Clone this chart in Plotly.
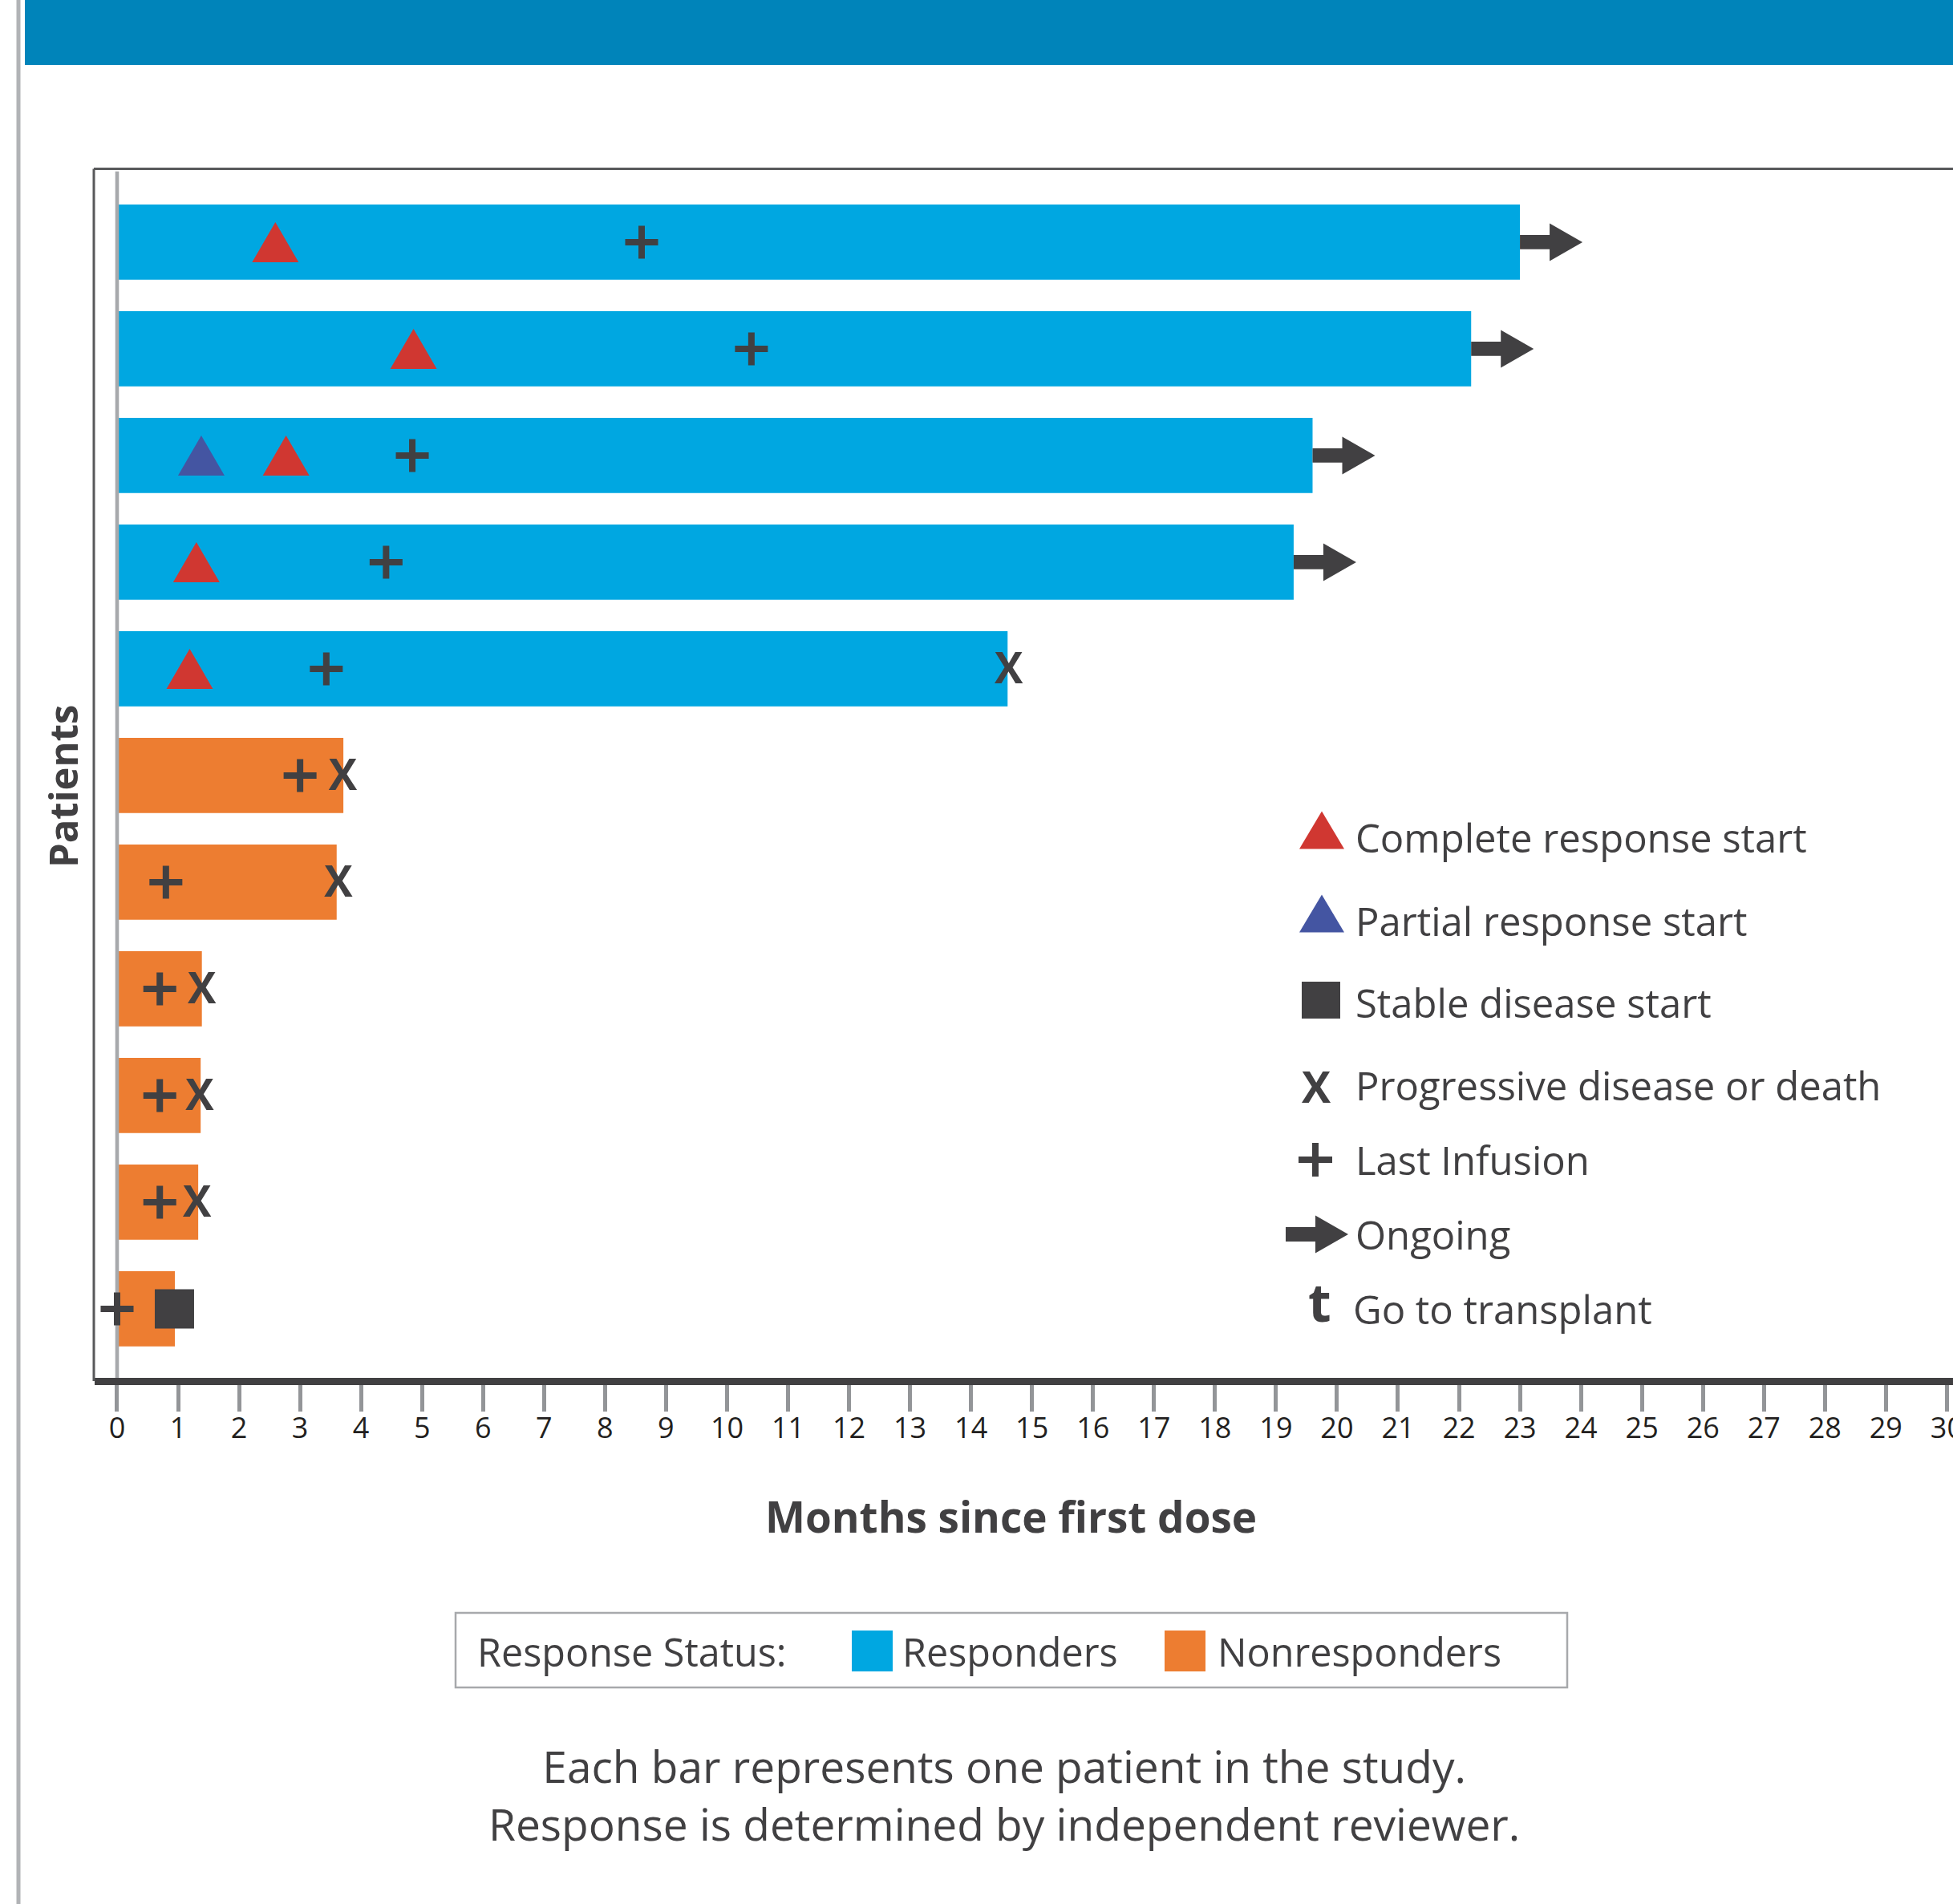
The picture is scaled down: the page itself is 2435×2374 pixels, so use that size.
import plotly.graph_objects as go

# ---------------- data ----------------
patients = list(range(1, 12))
status = ["Responders"] * 5 + ["Nonresponders"] * 6
duration = [23.0, 22.2, 19.6, 19.29, 14.60, 3.71, 3.60, 1.39, 1.37, 1.33, 0.947]

cr_patient = [1, 2, 3, 4, 5]
cr_month = [2.595, 4.86, 2.77, 1.30, 1.19]
pr_patient = [3]
pr_month = [1.38]
sd_patient = [11]
sd_month = [0.94]
pd_patient = [5, 6, 7, 8, 9, 10]
pd_month = [14.62, 3.70, 3.63, 1.39, 1.355, 1.31]
li_patient = list(range(1, 12))
li_month = [8.60, 10.40, 4.84, 4.41, 3.43, 3.00, 0.80, 0.70, 0.70, 0.70, 0.0]
ongoing_patient = [1, 2, 3, 4]

x_ticks = list(range(0, 31))
x_ticklabels = [str(v) for v in x_ticks]

legend_labels = ["Complete response start", "Partial response start", "Stable disease start",
                 "Progressive disease or death", "Last Infusion", "Ongoing", "Go to transplant"]
status_labels = ["Responders", "Nonresponders"]
caption_lines = ["Each bar represents one patient in the study.",
                 "Response is determined by independent reviewer."]

# ---------------- style ----------------
W, H = 2435, 2374
FONT = "Open Sans"
DARK = "#414042"
C_RESP = "#00A7E1"
C_NONRESP = "#ED7D31"
C_CR = "#D03731"
C_PR = "#4455A2"
HEADER = "#0084BA"
TXT_W = 500

PLOT_L, PLOT_T, PLOT_B = 118, 211, 1718
X_RANGE = [-0.368, 30.1]
Y_RANGE = [11.647, 0.316]
PX_PER_MONTH = (W - PLOT_L) / (X_RANGE[1] - X_RANGE[0])
PX_PER_ROW = (PLOT_B - PLOT_T) / (Y_RANGE[0] - Y_RANGE[1])
X_GLYPH_DY = 5 / PX_PER_ROW  # optical centring of the "X" glyph


def px(x):
    return x / W


def py(y):
    return 1 - y / H


fig = go.Figure()

# bars
for lab, col in zip(status_labels, [C_RESP, C_NONRESP]):
    xs = [d for d, s in zip(duration, status) if s == lab]
    ys = [p for p, s in zip(patients, status) if s == lab]
    fig.add_trace(go.Bar(x=xs, y=ys, orientation="h", width=0.705, name=lab,
                         marker=dict(color=col, line=dict(width=0)), showlegend=False))

# zero reference line (drawn above bars, below markers)
fig.add_trace(go.Scatter(x=[0, 0], y=[Y_RANGE[1] + 0.02, Y_RANGE[0]], mode="lines",
                         line=dict(color="#A7A9AC", width=4.6), showlegend=False, hoverinfo="skip"))


# triangles as polygons (58 x 50 px)
def tri_path(months, rows):
    hw = 29 / PX_PER_MONTH
    hh = 25 / PX_PER_ROW
    xs, ys = [], []
    for m, r in zip(months, rows):
        xs += [m - hw, m + hw, m, m - hw, None]
        ys += [r + hh, r + hh, r - hh, r + hh, None]
    return xs, ys


for months, rows, col in [(cr_month, cr_patient, C_CR), (pr_month, pr_patient, C_PR)]:
    tx, ty = tri_path(months, rows)
    fig.add_trace(go.Scatter(x=tx, y=ty, mode="lines", fill="toself", fillcolor=col,
                             line=dict(width=0, color=col), showlegend=False, hoverinfo="skip"))

# ongoing arrows
sl, sh = 37 / PX_PER_MONTH, 8.85 / PX_PER_ROW
hl, hh = 41 / PX_PER_MONTH, 23.5 / PX_PER_ROW
ax_, ay_ = [], []
for p in ongoing_patient:
    xe = duration[patients.index(p)]
    ax_ += [xe, xe + sl, xe + sl, xe + sl + hl, xe + sl, xe + sl, xe, xe, None]
    ay_ += [p - sh, p - sh, p - hh, p, p + hh, p + sh, p + sh, p - sh, None]
fig.add_trace(go.Scatter(x=ax_, y=ay_, mode="lines", fill="toself", fillcolor=DARK,
                         line=dict(width=0, color=DARK), showlegend=False, hoverinfo="skip"))

# last infusion
fig.add_trace(go.Scatter(x=li_month, y=li_patient, mode="markers", showlegend=False,
                         marker=dict(symbol="cross-thin", size=29.3, color=DARK,
                                     line=dict(width=8, color=DARK))))
# stable disease
fig.add_trace(go.Scatter(x=sd_month, y=sd_patient, mode="markers", showlegend=False,
                         marker=dict(symbol="square", size=49, color=DARK, line=dict(width=0))))
# progression / death
fig.add_trace(go.Scatter(x=pd_month, y=[p + X_GLYPH_DY for p in pd_patient], mode="text",
                         text=["X"] * len(pd_month),
                         textposition="middle center", showlegend=False,
                         textfont=dict(family=FONT, size=53, color=DARK, weight="bold")))

shapes = []
annotations = []

# header band and left page rule
shapes.append(dict(type="rect", xref="paper", yref="paper", x0=px(31), x1=1.01, y0=py(81), y1=1.01,
                   fillcolor=HEADER, line=dict(width=0), layer="below"))
shapes.append(dict(type="line", xref="paper", yref="paper", x0=px(23), x1=px(23), y0=-0.01, y1=1.01,
                   line=dict(color="#B1B3B6", width=5)))
# frame (top and left)
shapes.append(dict(type="line", xref="paper", yref="paper", x0=px(PLOT_L - 1), x1=1.01,
                   y0=py(PLOT_T - 0.5), y1=py(PLOT_T - 0.5), line=dict(color="#58595B", width=3)))
shapes.append(dict(type="line", xref="paper", yref="paper", x0=px(PLOT_L - 1), x1=px(PLOT_L - 1),
                   y0=py(PLOT_B + 4), y1=py(PLOT_T - 0.5), line=dict(color="#58595B", width=3)))


def ptri(cx, cy, w, h, col):
    return dict(type="path", xref="paper", yref="paper",
                path=f"M {px(cx - w / 2)},{py(cy + h / 2)} L {px(cx + w / 2)},{py(cy + h / 2)} "
                     f"L {px(cx)},{py(cy - h / 2)} Z",
                fillcolor=col, line=dict(width=0))


# right-side symbol legend
leg_y = [1044, 1148, 1250, 1353, 1446, 1539, 1632]
shapes.append(ptri(1648, 1035, 56, 47, C_CR))
shapes.append(ptri(1648, 1139, 56, 47, C_PR))
shapes.append(dict(type="rect", xref="paper", yref="paper", x0=px(1623), x1=px(1671),
                   y0=py(1270), y1=py(1224), fillcolor=DARK, line=dict(width=0)))
annotations.append(dict(x=px(1641), y=py(1354), xref="paper", yref="paper", text="X", showarrow=False,
                        xanchor="center", yanchor="middle",
                        font=dict(family=FONT, size=54, color=DARK, weight="bold")))
shapes.append(dict(type="line", xref="paper", yref="paper", x0=px(1619), x1=px(1661),
                   y0=py(1446), y1=py(1446), line=dict(color=DARK, width=8)))
shapes.append(dict(type="line", xref="paper", yref="paper", x0=px(1640), x1=px(1640),
                   y0=py(1425), y1=py(1467), line=dict(color=DARK, width=8)))
cy = 1539
shapes.append(dict(type="path", xref="paper", yref="paper",
                   path=(f"M {px(1603)},{py(cy - 9)} L {px(1640)},{py(cy - 9)} L {px(1640)},{py(cy - 23.5)} "
                         f"L {px(1681)},{py(cy)} L {px(1640)},{py(cy + 23.5)} L {px(1640)},{py(cy + 9)} "
                         f"L {px(1603)},{py(cy + 9)} Z"),
                   fillcolor=DARK, line=dict(width=0)))
annotations.append(dict(x=px(1645), y=py(1622), xref="paper", yref="paper", text="t", showarrow=False,
                        xanchor="center", yanchor="middle",
                        font=dict(family=FONT, size=66, color=DARK, weight="bold")))
for i, (lab, yy) in enumerate(zip(legend_labels, leg_y)):
    annotations.append(dict(x=px(1685 if i == 6 else 1688), y=py(yy), xref="paper", yref="paper",
                            text=lab, showarrow=False, xanchor="left", yanchor="middle",
                            font=dict(family=FONT, size=49, color=DARK, weight=TXT_W)))

# axis titles
annotations.append(dict(x=px(78), y=py(981), xref="paper", yref="paper", text="<b>Patients</b>",
                        showarrow=False, textangle=-90, xanchor="center", yanchor="middle",
                        font=dict(family=FONT, size=49, color=DARK)))
annotations.append(dict(x=px(1260), y=py(1890), xref="paper", yref="paper",
                        text="<b>Months since first dose</b>", showarrow=False,
                        xanchor="center", yanchor="middle", font=dict(family=FONT, size=53, color=DARK)))

# response status legend box
shapes.append(dict(type="rect", xref="paper", yref="paper", x0=px(568), x1=px(1954),
                   y0=py(2104), y1=py(2011), line=dict(color="#A7A9AC", width=2.5), fillcolor="rgba(0,0,0,0)"))
shapes.append(dict(type="rect", xref="paper", yref="paper", x0=px(1062), x1=px(1113),
                   y0=py(2084), y1=py(2033), fillcolor=C_RESP, line=dict(width=0)))
shapes.append(dict(type="rect", xref="paper", yref="paper", x0=px(1452), x1=px(1503),
                   y0=py(2084), y1=py(2033), fillcolor=C_NONRESP, line=dict(width=0)))
for txt, xx in [("Response Status:", 593), (status_labels[0], 1123), (status_labels[1], 1516)]:
    annotations.append(dict(x=px(xx), y=py(2059), xref="paper", yref="paper", text=txt, showarrow=False,
                            xanchor="left", yanchor="middle",
                            font=dict(family=FONT, size=48.5, color=DARK, weight=TXT_W)))

# caption (one two-line text block)
annotations.append(dict(x=px(1252), y=py(2237), xref="paper", yref="paper",
                        text="<br>".join(caption_lines), showarrow=False,
                        xanchor="center", yanchor="middle", align="center",
                        font=dict(family=FONT, size=55, color=DARK, weight=TXT_W)))

fig.update_layout(
    width=W, height=H,
    margin=dict(l=0, r=0, t=0, b=0, pad=0, autoexpand=False),
    paper_bgcolor="white", plot_bgcolor="white",
    bargap=0.3, showlegend=False,
    shapes=shapes, annotations=annotations,
    xaxis=dict(domain=[px(PLOT_L), 1], range=X_RANGE, tickmode="array", tickvals=x_ticks,
               ticktext=x_ticklabels, ticks="outside", ticklen=33, tickwidth=4.5, tickcolor="#939598",
               ticklabelstandoff=-10, ticklabeloverflow="allow", automargin=False,
               showline=True, linewidth=9, linecolor=DARK, showgrid=False, zeroline=False,
               tickfont=dict(family=FONT, size=36, color="#231F20"), fixedrange=True),
    yaxis=dict(domain=[py(PLOT_B), py(PLOT_T)], range=Y_RANGE, showticklabels=False, showgrid=False,
               zeroline=False, showline=False, ticks="", fixedrange=True, automargin=False),
)

post = "document.body.style.margin='0';document.body.style.overflow='hidden';"
fig.write_html("out.html", config={"displayModeBar": False}, post_script=post)
